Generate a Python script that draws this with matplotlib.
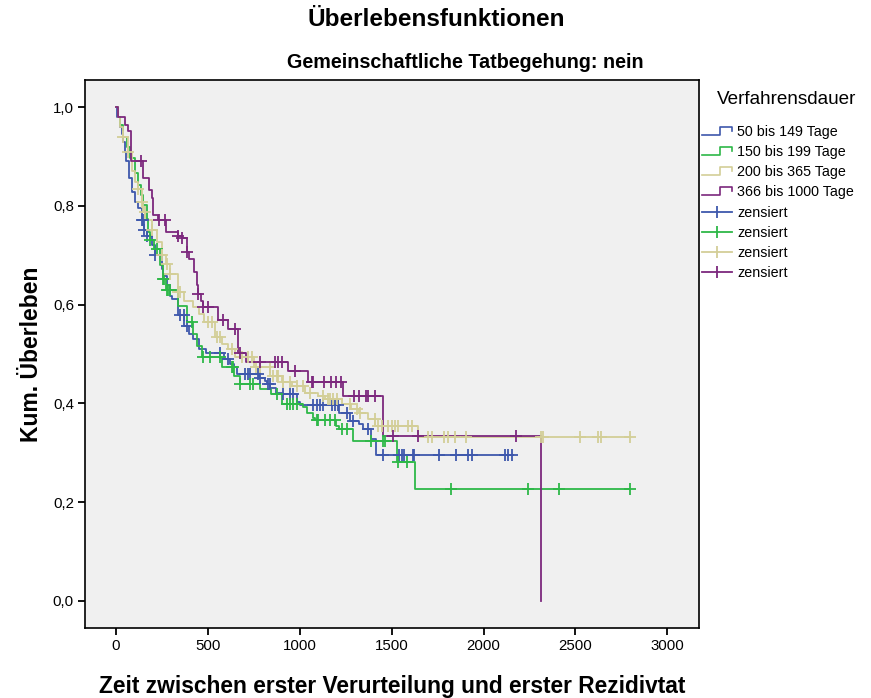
import numpy as np
import matplotlib
matplotlib.use("Agg")
import matplotlib.pyplot as plt
from matplotlib.lines import Line2D
from matplotlib.legend_handler import HandlerBase

plt.rcParams['font.family'] = ['Liberation Sans', 'DejaVu Sans']

# ---------------- data ----------------
group_labels = ["50 bis 149 Tage", "150 bis 199 Tage", "200 bis 365 Tage", "366 bis 1000 Tage"]
group_colors = ["#3E58AC", "#2EB848", "#D3CE97", "#7C287D"]

# event times (days) and survival after each step
blue_t = [0, 8, 20, 32, 41, 50, 55, 72, 87, 105, 123, 140, 155, 168, 195, 213, 250, 258, 276, 295,
          305, 340, 370, 400, 420, 450, 490, 590, 620, 640, 660, 780, 810, 820, 840, 870, 905, 985,
          1000, 1215, 1275, 1320, 1345, 1390, 1415]
blue_s = [1.0, 0.98, 0.96, 0.945, 0.93, 0.91, 0.89, 0.856, 0.829, 0.808, 0.795, 0.771, 0.751, 0.740,
          0.72, 0.70, 0.673, 0.659, 0.639, 0.618, 0.612, 0.578, 0.557, 0.541, 0.530, 0.510, 0.503,
          0.490, 0.480, 0.473, 0.459, 0.452, 0.446, 0.439, 0.432, 0.422, 0.419, 0.402, 0.396, 0.381,
          0.364, 0.358, 0.348, 0.327, 0.295]
blue_cens = [141, 150, 155, 168, 214, 350, 368, 386, 567, 612, 703, 721, 730, 775, 784, 828, 839, 911,
             947, 964, 1074, 1092, 1110, 1128, 1174, 1192, 1210, 1255, 1291, 1373, 1454, 1541, 1554,
             1568, 1614, 1621, 1759, 1849, 1913, 1935, 2116, 2134, 2154]

green_t = [0, 10, 25, 40, 60, 78, 105, 123, 137, 150, 168, 177, 186, 210, 240, 255, 270, 340, 385,
           420, 440, 467, 575, 645, 675, 785, 845, 905, 1020, 1038, 1073, 1085, 1200, 1215, 1291,
           1527, 1627]
green_s = [1.0, 0.98, 0.964, 0.94, 0.92, 0.896, 0.866, 0.842, 0.822, 0.801, 0.774, 0.747, 0.730, 0.713,
           0.68, 0.652, 0.629, 0.598, 0.564, 0.541, 0.517, 0.493, 0.473, 0.456, 0.439, 0.429, 0.419,
           0.398, 0.392, 0.381, 0.371, 0.366, 0.354, 0.348, 0.323, 0.282, 0.226]
green_cens = [186, 223, 259, 264, 277, 286, 295, 413, 476, 512, 567, 630, 639, 676, 730, 748, 875,
              929, 947, 965, 984, 1092, 1101, 1138, 1165, 1192, 1228, 1255, 1386, 1451, 1464, 1536,
              1582, 1822, 2242, 2411, 2795]

beige_t = [0, 10, 25, 41, 68, 90, 104, 122, 140, 150, 160, 195, 222, 250, 270, 295, 340, 370, 420,
           450, 480, 540, 575, 610, 650, 750, 840, 905, 960, 1030, 1100, 1140, 1230, 1280, 1320,
           1370, 1410, 1645]
beige_s = [1.0, 0.98, 0.96, 0.94, 0.91, 0.87, 0.849, 0.835, 0.808, 0.788, 0.771, 0.751, 0.727, 0.70,
           0.683, 0.663, 0.625, 0.608, 0.595, 0.581, 0.564, 0.534, 0.520, 0.510, 0.493, 0.473, 0.456,
           0.443, 0.436, 0.422, 0.415, 0.409, 0.398, 0.388, 0.381, 0.368, 0.354, 0.331]
beige_cens = [41, 68, 123, 141, 159, 196, 250, 277, 295, 340, 349, 503, 523, 549, 567, 630, 685, 719,
              741, 762, 784, 839, 856, 875, 884, 911, 947, 984, 1020, 1056, 1128, 1155, 1165, 1183,
              1201, 1273, 1310, 1328, 1409, 1427, 1446, 1482, 1500, 1518, 1536, 1590, 1609, 1699,
              1717, 1784, 1808, 1844, 1904, 2315, 2324, 2527, 2623, 2638, 2795]

purple_t = [0, 14, 51, 65, 83, 148, 178, 196, 203, 230, 272, 340, 358, 385, 400, 425, 440, 448, 465,
            475, 555, 610, 665, 710, 938, 1047, 1237, 1455, 2310]
purple_s = [1.0, 0.981, 0.964, 0.951, 0.890, 0.856, 0.832, 0.815, 0.781, 0.771, 0.747, 0.740, 0.734,
            0.707, 0.693, 0.666, 0.639, 0.622, 0.608, 0.595, 0.568, 0.551, 0.503, 0.483, 0.466,
            0.444, 0.415, 0.334, 0.0]
purple_cens = [135, 232, 268, 340, 359, 386, 449, 476, 502, 585, 648, 675, 784, 866, 884, 902, 974,
               1065, 1074, 1132, 1168, 1196, 1223, 1295, 1324, 1359, 1370, 1409, 1505, 1645, 2179]

x_ticks = [0, 500, 1000, 1500, 2000, 2500, 3000]
y_ticks = [0.0, 0.2, 0.4, 0.6, 0.8, 1.0]
y_tick_labels = ["0,0", "0,2", "0,4", "0,6", "0,8", "1,0"]

groups = [(blue_t, blue_s, blue_cens), (green_t, green_s, green_cens),
          (beige_t, beige_s, beige_cens), (purple_t, purple_s, purple_cens)]

# ---------------- figure ----------------
W, H = 871, 698
fig = plt.figure(figsize=(W / 100, H / 100), dpi=100)
ax = fig.add_axes([85 / W, 1 - 628 / H, (699 - 85) / W, (628 - 80) / H])
ax.set_facecolor("#F0F0F0")

step_handles = []
cens_handles = []
for (t, s, c), col, lab in zip(groups, group_colors, group_labels):
    t = np.asarray(t, float)
    s = np.asarray(s, float)
    c = np.asarray(c, float)
    tend = max(t.max(), c.max() if len(c) else 0)
    tt = np.append(t, tend)
    ss = np.append(s, s[-1])
    ln, = ax.step(tt, ss, where="post", color=col, lw=1.3, zorder=3)
    idx = np.searchsorted(t, c, side="right") - 1
    ax.plot(c, s[idx], linestyle="none", marker="+", markersize=8, mew=1.3, color=col, zorder=4)
    step_handles.append(ln)
    cens_handles.append(Line2D([], [], color=col, lw=1.3, marker="|", markersize=9, mew=1.3))

ax.set_xlim(-168, 3172)
ax.set_ylim(-0.055, 1.055)
ax.set_xticks(x_ticks)
ax.set_xticklabels([str(v) for v in x_ticks])
ax.set_yticks(y_ticks)
ax.set_yticklabels(y_tick_labels)
ax.tick_params(direction="out", length=5, width=1.3, labelsize=10.8, colors="black", pad=3)
for sp in ax.spines.values():
    sp.set_linewidth(1.2)
    sp.set_color("black")

ax.set_xlabel("Zeit zwischen erster Verurteilung und erster Rezidivtat", fontsize=16.4,
              fontweight="bold", labelpad=16)
ax.set_ylabel("Kum. Überleben", fontsize=16.5, fontweight="bold", labelpad=7)

fig.text(436 / W, 1 - 20 / H, "Überlebensfunktionen", ha="center", va="center",
         fontsize=17.5, fontweight="bold")
fig.text(465 / W, 1 - 62 / H, "Gemeinschaftliche Tatbegehung: nein", ha="center", va="center",
         fontsize=14.2, fontweight="bold")

fig.text(787 / W, 1 - 100 / H, "Verfahrensdauer", ha="center", va="center", fontsize=13.6)


class StepHandler(HandlerBase):
    def create_artists(self, legend, orig_handle, xdescent, ydescent, width, height, fontsize, trans):
        x0 = -xdescent
        y0 = -ydescent
        xs = [x0, x0 + 0.6 * width, x0 + 0.6 * width, x0 + width, x0 + width]
        ys = [y0 + 0.1 * height, y0 + 0.1 * height, y0 + 0.9 * height, y0 + 0.9 * height, y0 + 0.5 * height]
        ln = Line2D(xs, ys, color=orig_handle.get_color(), lw=1.2, transform=trans)
        return [ln]


handles = step_handles + cens_handles
labels = group_labels + ["zensiert"] * 4
hmap = {h: StepHandler() for h in step_handles}
leg = fig.legend(handles, labels, handler_map=hmap, loc="upper left",
                 bbox_to_anchor=(702 / W, 1 - 125 / H), frameon=False, fontsize=10.3,
                 handlelength=2.1, handletextpad=0.35, labelspacing=0.43, borderpad=0,
                 numpoints=1, borderaxespad=0)

fig.savefig("out.png", dpi=100, facecolor="white")
